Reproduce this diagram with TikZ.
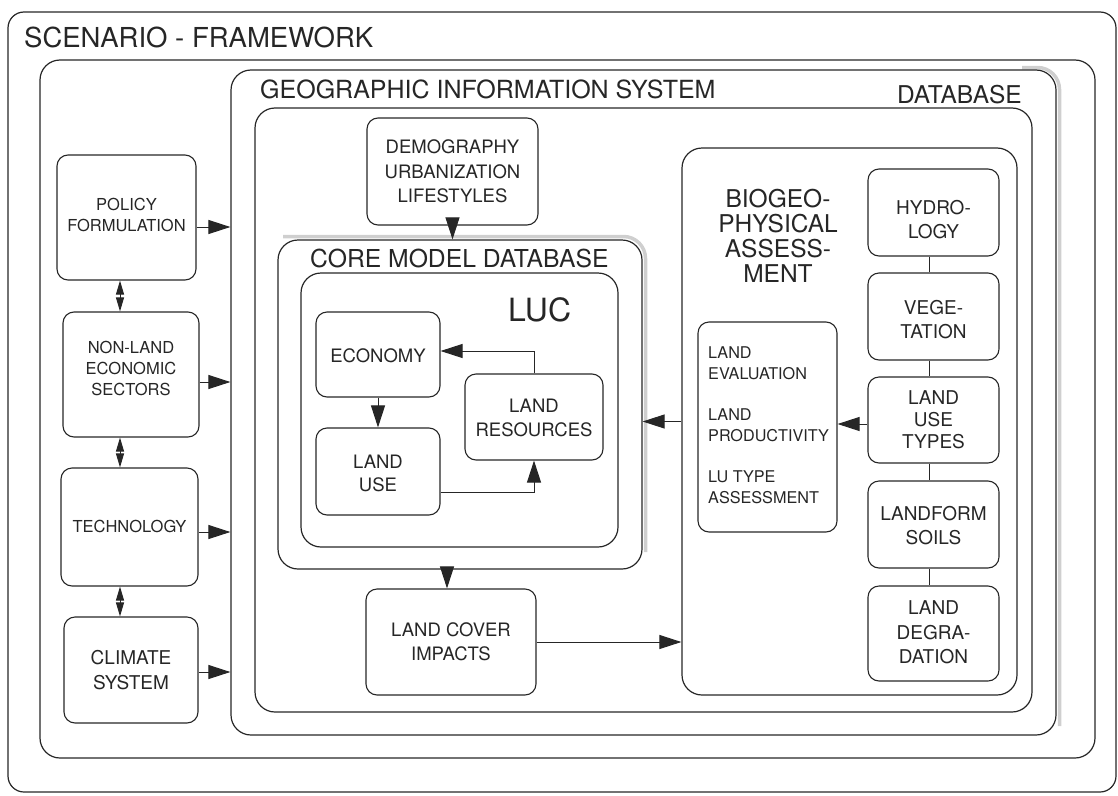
\documentclass[tikz,border=0pt]{standalone}
\usepackage{fontspec}
\setmainfont{TeX Gyre Heros}
\usetikzlibrary{arrows.meta}
\definecolor{ink}{HTML}{262626}
\definecolor{band}{HTML}{CFCFCF}
\newcommand{\fsz}[2]{\fontsize{#1}{#2}\selectfont}

\begin{document}
\begin{tikzpicture}[x=1pt,y=-1pt,color=ink,
  frame/.style={draw, rounded corners=20pt, line width=1.2pt, inner sep=0pt},
  box/.style={draw, rounded corners=11pt, line width=1.1pt, inner sep=0pt},
  txt/.style={align=center, inner sep=0pt},
  head/.style={inner sep=0pt, anchor=base west},
  arr/.style={-{Triangle[length=22pt,width=14pt]}, line width=1pt},
  darr/.style={{Triangle[length=14pt,width=8pt]}-{Triangle[length=14pt,width=8pt]}, line width=1pt},
  link/.style={line width=1pt},
  shadowband/.style={draw=band, line width=3.5pt, rounded corners=22pt}]

\useasboundingbox (0,0) rectangle (1118,795);

% nested frames
\node[frame, minimum width=1108pt, minimum height=780pt, rounded corners=16pt] (scen) at (562,402) {};
\node[frame, minimum width=1055pt, minimum height=698pt] (scenin) at (567.5,409) {};
\draw[shadowband] (1022,67.5) -- (1059.5,67.5) -- (1059.5,726);
\node[frame, minimum width=825pt, minimum height=665pt] (gis) at (643.5,402.5) {};
\node[frame, minimum width=777pt, minimum height=604pt] (db) at (643.5,410) {};
\draw[shadowband] (283,236.5) -- (645.5,236.5) -- (645.5,552);
\node[frame, minimum width=364pt, minimum height=329pt] (core) at (460,404.5) {};
\node[frame, minimum width=317pt, minimum height=274pt] (luc) at (459.5,410) {};
\node[frame, minimum width=335pt, minimum height=547pt] (bio) at (849.5,421.5) {};

% frame headings
\node[head, font=\fsz{27.5}{30}] (scentitle) at (24,47) {SCENARIO - FRAMEWORK};
\node[head, font=\fsz{25}{27}] (gistitle) at (260,98.5) {GEOGRAPHIC INFORMATION SYSTEM};
\node[head, anchor=base east, font=\fsz{24.5}{27}] (dbtitle) at (1022,103) {DATABASE};
\node[head, font=\fsz{24.7}{27}] (coretitle) at (310,267) {CORE MODEL DATABASE};
\node[head, font=\fsz{32}{34}] (luctitle) at (508,321) {LUC};
\node[txt, font=\fsz{24.5}{25}] (biotitle) at (778,235.5) {BIOGEO-\\PHYSICAL\\ASSESS-\\MENT};

% driver boxes on the left
\node[box, minimum width=139pt, minimum height=125pt] (policy) at (126.5,217.5) {};
\node[txt, font=\fsz{16.5}{21}] (policyt) at (126.5,214.5) {POLICY\\FORMULATION};
\node[box, minimum width=136pt, minimum height=125pt] (nonland) at (131,374.5) {};
\node[txt, font=\fsz{16.5}{21}] (nonlandt) at (131,368) {NON-LAND\\ECONOMIC\\SECTORS};
\node[box, minimum width=137pt, minimum height=118pt] (tech) at (129.5,527) {};
\node[txt, font=\fsz{16.5}{21}] (techt) at (129.5,526) {TECHNOLOGY};
\node[box, minimum width=134pt, minimum height=106pt] (climate) at (131,670) {};
\node[txt, font=\fsz{19}{25}] (climatet) at (131,670.5) {CLIMATE\\SYSTEM};

% demography and land cover
\node[box, minimum width=171pt, minimum height=107pt] (demo) at (452.5,171.5) {};
\node[txt, font=\fsz{18.5}{24.5}] (demot) at (452.5,171.5) {DEMOGRAPHY\\URBANIZATION\\LIFESTYLES};
\node[box, minimum width=170pt, minimum height=106pt] (lci) at (451,642) {};
\node[txt, font=\fsz{18.5}{24}] (lcit) at (451,642) {LAND COVER\\IMPACTS};

% LUC core
\node[box, minimum width=124pt, minimum height=85pt] (econ) at (378,354.5) {};
\node[txt, font=\fsz{18.5}{24}] (econt) at (378,356) {ECONOMY};
\node[box, minimum width=124pt, minimum height=87pt] (landuse) at (378,471.5) {};
\node[txt, font=\fsz{18.5}{23}] (landuset) at (378,473.5) {LAND\\USE};
\node[box, minimum width=138pt, minimum height=86pt] (landres) at (534,417) {};
\node[txt, font=\fsz{18.5}{24}] (landrest) at (534,418) {LAND\\RESOURCES};

% biogeophysical components
\node[box, minimum width=131pt, minimum height=87pt] (hydro) at (933.5,212.5) {};
\node[txt, font=\fsz{19}{24}] (hydrot) at (933.5,220) {HYDRO-\\LOGY};
\node[box, minimum width=131pt, minimum height=87pt] (veg) at (933.5,316.5) {};
\node[txt, font=\fsz{19}{24}] (vegt) at (933.5,320) {VEGE-\\TATION};
\node[box, minimum width=131pt, minimum height=86pt] (lut) at (933.5,420) {};
\node[txt, font=\fsz{19}{22}] (lutt) at (933.5,420) {LAND\\USE\\TYPES};
\node[box, minimum width=131pt, minimum height=87pt] (landform) at (933.5,524.5) {};
\node[txt, font=\fsz{19}{24}] (landformt) at (933.5,526) {LANDFORM\\SOILS};
\node[box, minimum width=131pt, minimum height=95pt] (degr) at (933.5,633.5) {};
\node[txt, font=\fsz{19}{24.5}] (degrt) at (933.5,632.5) {LAND\\DEGRA-\\DATION};

\node[box, minimum width=139pt, minimum height=210pt] (landeval) at (767.5,427) {};
\node[txt, align=left, anchor=west, font=\fsz{16.2}{20.5}] (landevalt) at (708,425)
  {LAND\\EVALUATION\\[21pt]LAND\\PRODUCTIVITY\\[21pt]LU TYPE\\ASSESSMENT};

% connectors: drivers into the GIS
\draw[arr] ([yshift=-9.5pt]policy.east) -- ([yshift=-9.5pt]policy.east -| gis.west);
\draw[arr] ([yshift=-7.5pt]nonland.east) -- ([yshift=-7.5pt]nonland.east -| gis.west);
\draw[arr] ([yshift=-5pt]tech.east) -- ([yshift=-5pt]tech.east -| gis.west);
\draw[arr] ([yshift=-2pt]climate.east) -- ([yshift=-2pt]climate.east -| gis.west);

% two-way links between drivers
\draw[darr] ([xshift=-6.5pt]policy.south) -- ([xshift=-6.5pt]policy.south |- nonland.north);
\draw[darr] ([xshift=-11pt]nonland.south) -- ([xshift=-11pt]nonland.south |- tech.north);
\draw[darr] ([xshift=-9.5pt]tech.south) -- ([xshift=-9.5pt]tech.south |- climate.north);

% flows inside the database
\draw[arr] (demo.south) -- (demo.south |- core.north);
\draw[arr] ([xshift=-4pt]lci.north |- core.south) -- ([xshift=-4pt]lci.north);
\draw[arr] (lci.east) -- (lci.east -| bio.west);
\draw[arr] (bio.west) -- (bio.west -| core.east);
\draw[arr] ([yshift=-4pt]lut.west) -- ([yshift=-4pt]lut.west -| landeval.east);

% LUC loop
\draw[arr] (econ.south) -- (landuse.north);
\draw[arr] (landres.north) |- ([yshift=3.5pt]econ.east);
\draw[arr] ([yshift=-20.5pt]landuse.east) -| (landres.south);

% links between biogeophysical components
\draw[link] ([xshift=-4.5pt]hydro.south) -- ([xshift=-4.5pt]veg.north);
\draw[link] ([xshift=-4.5pt]veg.south) -- ([xshift=-4.5pt]lut.north);
\draw[link] ([xshift=-4.5pt]lut.south) -- ([xshift=-4.5pt]landform.north);
\draw[link] ([xshift=-4.5pt]landform.south) -- ([xshift=-4.5pt]degr.north);
\end{tikzpicture}
\end{document}
